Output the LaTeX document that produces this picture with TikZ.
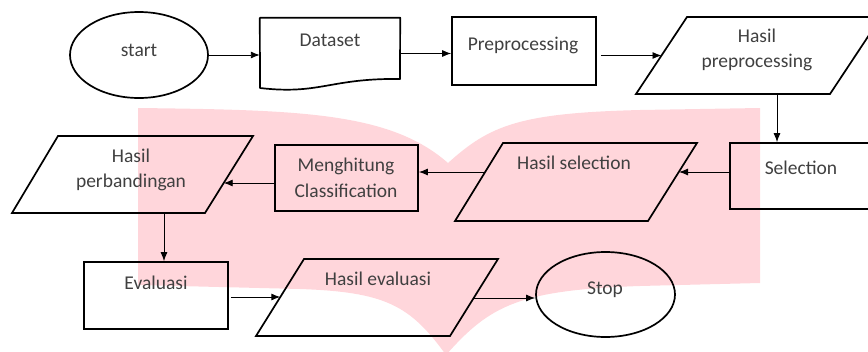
\documentclass[tikz,border=0pt]{standalone}
\usepackage{fontspec}
\setmainfont{Carlito}
\usetikzlibrary{shapes.geometric,arrows.meta,calc}
\definecolor{wm}{RGB}{255,214,219}
\definecolor{txt}{RGB}{64,64,64}
\begin{document}
\begin{tikzpicture}[x=1pt,y=-1pt,
  shp/.style={draw=black,line width=1.7pt,inner sep=0pt},
  boxnode/.style={shp,rectangle},
  ovalnode/.style={shp,ellipse},
  lbl/.style={text=txt,font=\fontsize{19.5}{25.5}\selectfont,align=center,inner sep=0pt},
  arr/.style={draw=black,line width=0.9pt,-{Latex[length=9pt,width=7pt]}}]
\useasboundingbox (0,0) rectangle (868,351);
% watermark (open book)
\fill[wm] (138,108) .. controls (300,110) and (390,112) .. (448,163)
  .. controls (490,125) and (520,113) .. (640,110) -- (760,108) -- (760,283)
  -- (640,286) .. controls (520,290) and (490,305) .. (446,355)
  .. controls (410,305) and (385,292) .. (300,289) -- (138,285) -- cycle;
% start
\node[ovalnode,minimum width=138pt,minimum height=86pt] (start) at (139,55) {};
\node[lbl] (tstart) at (139,50) {start};
% Dataset (document)
\node[inner sep=0pt,minimum width=140pt,minimum height=71pt] (ds) at (330,53.5) {};
\draw[line width=1.7pt,line join=round] (ds.north west) -- (ds.north east) -- (400,79)
  .. controls (330,78) and (320,95) .. (260,88) -- cycle;
\node[lbl] (tds) at (330,40) {Dataset};
% Preprocessing
\node[boxnode,minimum width=144pt,minimum height=68pt] (pre) at (524,51) {};
\node[lbl] (tpre) at (523,45) {Preprocessing};
% Hasil preprocessing
\coordinate (hp1) at (636,94); \coordinate (hp2) at (830,94);
\coordinate (hp3) at (881,17); \coordinate (hp4) at (687,17);
\draw[line width=1.7pt,line join=miter] (hp1) -- (hp2) -- (hp3) -- (hp4) -- cycle;
\coordinate (hpL) at ($(hp1)!0.5!(hp4)$);
\coordinate (hpB) at (777,94);
\node[lbl] (thp) at (757,50) {Hasil\\preprocessing};
% Selection
\node[boxnode,minimum width=160pt,minimum height=66pt] (sel) at (810,176) {};
\node[lbl] (tsel) at (801,168) {Selection};
% Hasil selection
\coordinate (hs1) at (455,221); \coordinate (hs2) at (648,221);
\coordinate (hs3) at (697,143); \coordinate (hs4) at (503,143);
\draw[line width=1.7pt] (hs1) -- (hs2) -- (hs3) -- (hs4) -- cycle;
\coordinate (hsR) at (679,172);
\coordinate (hsL) at (485,172);
\node[lbl] (ths) at (574,163) {Hasil selection};
% Menghitung Classification
\node[boxnode,minimum width=143pt,minimum height=66pt] (men) at (346.5,178) {};
\node[lbl] (tmen) at (346,178) {Menghitung\\Classification};
% Hasil perbandingan
\coordinate (hb1) at (12,213); \coordinate (hb2) at (205,213);
\coordinate (hb3) at (253,136); \coordinate (hb4) at (58,136);
\draw[line width=1.7pt] (hb1) -- (hb2) -- (hb3) -- (hb4) -- cycle;
\coordinate (hbR) at (223.7,183);
\coordinate (hbB) at (164,213);
\node[lbl] (thb) at (131,170) {Hasil\\perbandingan};
% Evaluasi
\node[boxnode,minimum width=144pt,minimum height=67pt] (ev) at (156,295.5) {};
\node[lbl] (tev) at (156,283) {Evaluasi};
% Hasil evaluasi
\coordinate (he1) at (256,336); \coordinate (he2) at (450,336);
\coordinate (he3) at (498,259); \coordinate (he4) at (304,259);
\draw[line width=1.7pt] (he1) -- (he2) -- (he3) -- (he4) -- cycle;
\coordinate (heL) at (280.3,297);
\coordinate (heR) at (473.7,298);
\node[lbl] (the) at (378,279) {Hasil evaluasi};
% Stop
\node[ovalnode,minimum width=139pt,minimum height=85pt] (stop) at (605.5,294.5) {};
\node[lbl] (tstop) at (605,290) {Stop};
% connectors
\draw[arr] (start.east) -- (start.east -| ds.west);
\draw[arr] (ds.east) -- (ds.east -| pre.west);
\draw[arr,shorten <=4pt] (pre.east |- hpL) -- (hpL);
\draw[arr] (hpB) -- (hpB |- sel.north);
\draw[arr] (hsR -| sel.west) -- (hsR);
\draw[arr] (hsL) -- (hsL -| men.east);
\draw[arr] (hbR -| men.west) -- (hbR);
\draw[arr] (hbB) -- (hbB |- ev.north);
\draw[arr,shorten <=2pt] (heL -| ev.east) -- (heL);
\draw[arr] (heR) -- (heR -| stop.west);
\end{tikzpicture}
\end{document}
